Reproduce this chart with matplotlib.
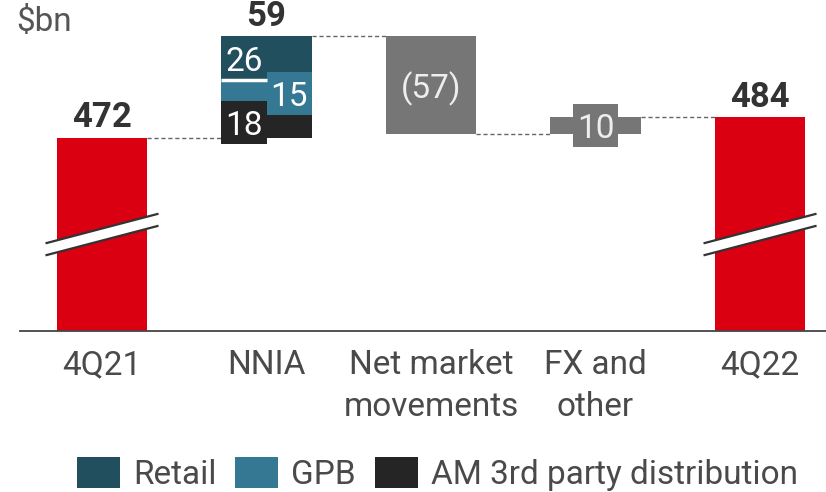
import matplotlib.pyplot as plt
from matplotlib.patches import Rectangle, Polygon

# values in $bn
categories = ["4Q21", "NNIA", "Net market\nmovements", "FX and\nother", "4Q22"]
start_value = 472
nnia_parts = [18, 15, 26]          # AM 3rd party distribution, GPB, Retail (bottom -> top)
nnia_labels = ["18", "15", "26"]
nnia_total = 59
market_move = -57
fx_other = 10
end_value = 484
legend_names = ["Retail", "GPB", "AM 3rd party distribution"]

RED = "#db0011"
RETAIL = "#224f5e"
GPB = "#357893"
AM = "#252525"
GREY = "#767676"
TXT = "#4a4a4a"
FS = 24

plt.rcParams["font.family"] = ["Roboto", "DejaVu Sans"]

W, H = 826, 492
fig = plt.figure(figsize=(W / 100, H / 100), dpi=100)
# axes: bottom spine is the baseline of the chart
ax = fig.add_axes([20 / W, (H - 331) / H, (W - 20) / W, 331 / H])

floor = 359.5               # broken axis: bars start here
ax.set_ylim(floor, 552)
ax.set_xlim(-0.4985, 4.401)
bw = 0.55
xs = range(len(categories))

# start / end bars
ax.bar([0, 4], [start_value - floor, end_value - floor], bottom=floor,
       width=bw, color=RED, zorder=2)

# NNIA stacked
colors = [AM, GPB, RETAIL]
bottom = start_value
seg_mid = []
for v, c in zip(nnia_parts, colors):
    ax.bar(1, v, bottom=bottom, width=bw, color=c, zorder=2)
    seg_mid.append(bottom + v / 2)
    bottom += v
top_nnia = start_value + nnia_total

# label boxes inside NNIA
box_h = 25
sides = [-1, 1, -1]  # left, right, left half
for mid, c, lab, s in zip(seg_mid, colors, nnia_labels, sides):
    x0 = 1 - bw / 2 if s < 0 else 1
    ax.add_patch(Rectangle((x0, mid - box_h / 2), bw / 2, box_h,
                           facecolor=c, edgecolor="none", zorder=3))
    ax.text(x0 + bw / 4, mid, lab, ha="center", va="center_baseline",
            color="white", fontsize=FS, zorder=4)
# white separator under the Retail box
ax.plot([1 - bw / 2, 1], [seg_mid[2] - box_h / 2] * 2, color="white", lw=2.5,
        zorder=4, solid_capstyle="butt")

# net market movements
after_market = top_nnia + market_move
ax.bar(2, -market_move, bottom=after_market, width=bw, color=GREY, zorder=2)
ax.text(2, (after_market + top_nnia) / 2, f"({-market_move})", ha="center",
        va="center_baseline", color="#eeeeee", fontsize=FS, zorder=4)

# FX and other
ax.bar(3, fx_other, bottom=after_market, width=bw, color=GREY, zorder=2)
fx_mid = after_market + fx_other / 2
ax.add_patch(Rectangle((3 - bw / 4, fx_mid - box_h / 2), bw / 2, box_h,
                       facecolor=GREY, edgecolor="none", zorder=3))
ax.text(3, fx_mid, str(fx_other), ha="center", va="center_baseline",
        color="#eeeeee", fontsize=FS, zorder=4)

# dashed connectors
levels = [start_value, top_nnia, after_market, end_value]
for i, lv in enumerate(levels):
    ax.plot([i + bw / 2, i + 1 - bw / 2], [lv, lv], color="#666666",
            lw=1, ls=(0, (3, 2)), zorder=1)

# totals
for x, v in [(0, start_value), (1, top_nnia), (4, end_value)]:
    lab = str(nnia_total) if x == 1 else str(v)
    ax.annotate(lab, (x, v), xytext=(0, 7.5), textcoords="offset points",
                ha="center", va="baseline", fontsize=25, fontweight="bold",
                color="#333333")

# axis breaks
brk = 415.6
dx, dy, gap = 0.337, 8.45, 3.5
for x in [0, 4]:
    poly = Polygon([(x - dx, brk - dy + gap), (x + dx, brk + dy + gap),
                    (x + dx, brk + dy - gap), (x - dx, brk - dy - gap)],
                   closed=True, facecolor="white", edgecolor="none", zorder=5)
    ax.add_patch(poly)
    for g in (gap, -gap):
        ax.plot([x - dx, x + dx], [brk - dy + g, brk + dy + g],
                color="#333333", lw=1.6, zorder=6, clip_on=False)

for s in ["top", "left", "right"]:
    ax.spines[s].set_visible(False)
ax.spines["bottom"].set_color("#444444")
ax.spines["bottom"].set_linewidth(1.3)
ax.set_yticks([])
ax.set_xticks(list(xs))
ax.set_xticklabels(categories, fontsize=FS, color=TXT, linespacing=1.4)
ax.tick_params(axis="x", length=0, pad=13)
ax.set_facecolor("none")

fig.text(16 / W, 1 - 31 / H, "$bn", fontsize=FS, color="#555555",
         va="baseline", ha="left")

# legend
sq_x = [77, 235, 375]
for x, c, name in zip(sq_x, [RETAIL, GPB, AM], legend_names):
    fig.patches.append(Rectangle((x / W, 1 - 488 / H), 43 / W, 31 / H,
                                 transform=fig.transFigure, facecolor=c,
                                 edgecolor="none"))
    fig.text((x + 56) / W, 1 - 484 / H, name, fontsize=FS, color=TXT,
             va="baseline", ha="left")

fig.savefig("out.png", dpi=100)
